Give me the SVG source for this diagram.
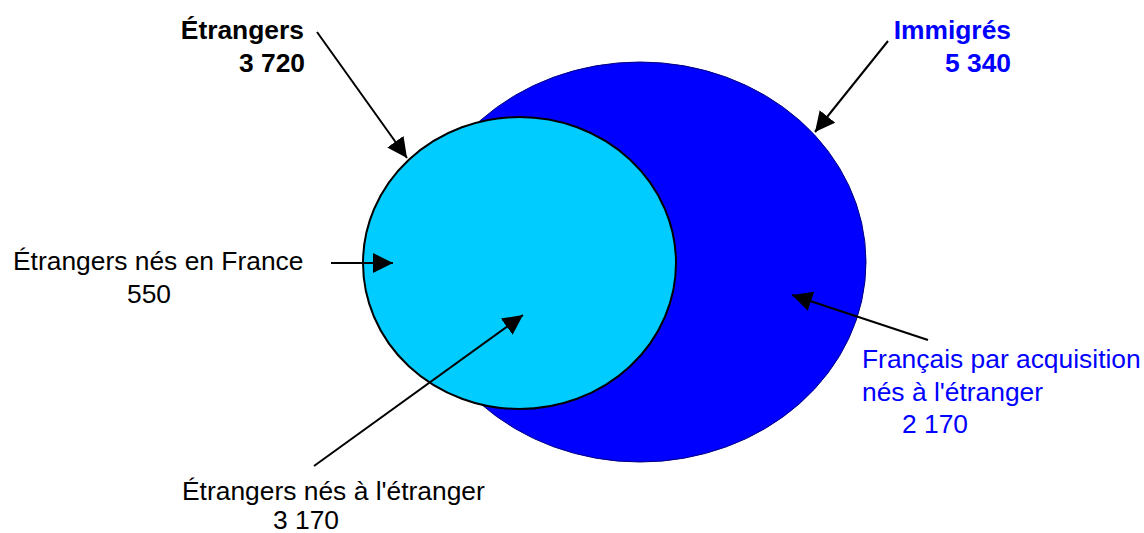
<svg xmlns="http://www.w3.org/2000/svg" width="1144" height="533" viewBox="0 0 1144 533">
<style>
text { font-family: "Liberation Sans", Arial, sans-serif; font-size: 26.4px; }
.b { font-weight: bold; }
.blk { fill: #000000; }
.blu { fill: #0000FF; }
.conn line { stroke: #000000; stroke-width: 2; marker-end: url(#ah); }
</style>
<defs>
<marker id="ah" markerUnits="userSpaceOnUse" markerWidth="20" markerHeight="20" refX="20" refY="10" orient="auto" viewBox="0 0 20 20">
<path d="M0,0 L20,10 L0,20 z" fill="#000000"/>
</marker>
</defs>
<rect x="0" y="0" width="1144" height="533" fill="#FFFFFF"/>
<g id="immigres">
<ellipse cx="640" cy="262" rx="226" ry="200" fill="#0000FF" stroke="#000080" stroke-width="1"/>
</g>
<g id="etrangers">
<ellipse cx="519.5" cy="263" rx="156.5" ry="146" fill="#00CCFF" stroke="#000000" stroke-width="2"/>
</g>
<g id="connectors" class="conn">
<line x1="317" y1="32" x2="407" y2="158"/>
<line x1="888" y1="41" x2="815" y2="132"/>
<line x1="331" y1="263" x2="393" y2="263"/>
<line x1="314" y1="466" x2="523" y2="315"/>
<line x1="928" y1="340" x2="792" y2="295"/>
</g>
<g id="label-etrangers">
<text class="b blk" x="304" y="39" text-anchor="end">Étrangers</text>
<text class="b blk" x="305" y="72" text-anchor="end">3 720</text>
</g>
<g id="label-immigres">
<text class="b blu" x="1011" y="39" text-anchor="end">Immigrés</text>
<text class="b blu" x="1011" y="72" text-anchor="end">5 340</text>
</g>
<g id="label-nes-france">
<text class="blk" x="13" y="270">Étrangers nés en France</text>
<text class="blk" x="127" y="303">550</text>
</g>
<g id="label-nes-etranger">
<text class="blk" x="182" y="500">Étrangers nés à l'étranger</text>
<text class="blk" x="273" y="529">3 170</text>
</g>
<g id="label-francais">
<text class="blu" x="862" y="368">Français par acquisition</text>
<text class="blu" x="862" y="401">nés à l'étranger</text>
<text class="blu" x="902" y="433">2 170</text>
</g>
</svg>
